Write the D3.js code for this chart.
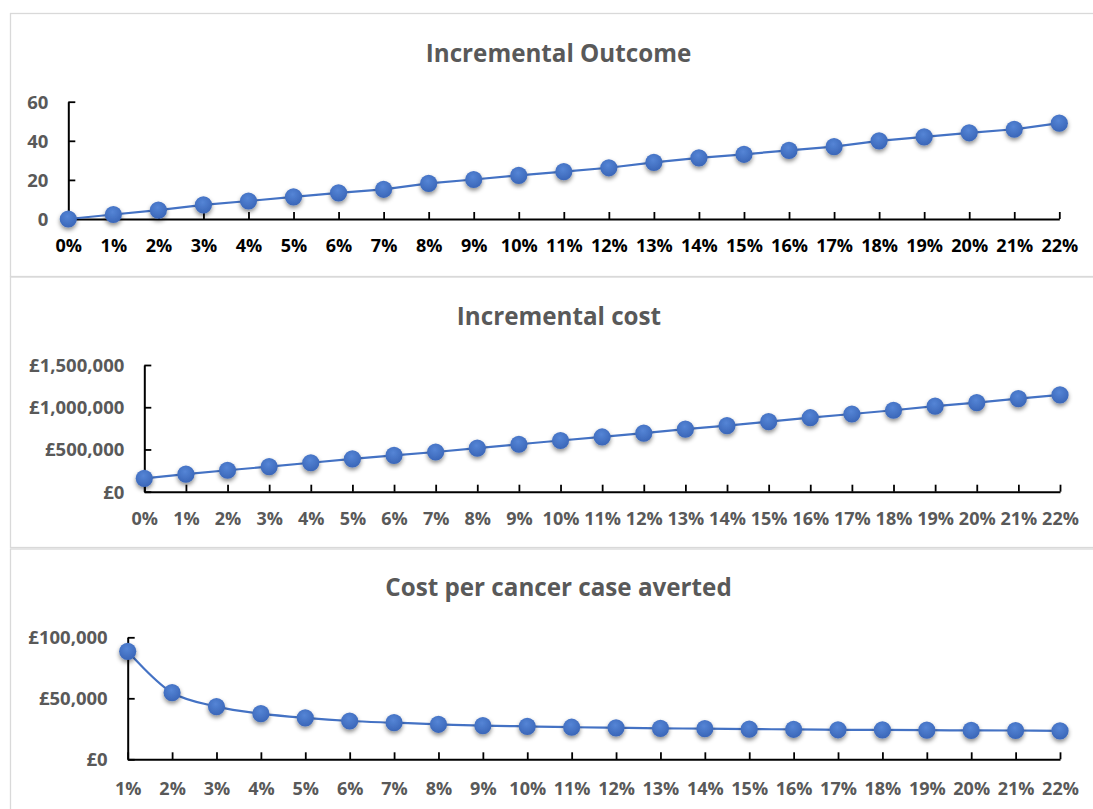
<!DOCTYPE html>
<html><head><meta charset="utf-8">
<script src="https://cdn.jsdelivr.net/npm/d3@7"></script>
<style>
html,body{margin:0;padding:0;background:#fff;}
svg{display:block;font-family:"Open Sans",sans-serif;}
</style></head>
<body><svg id="c" width="1093" height="809"></svg>
<script>
// ---- data ----
const rates1 = ["0%","1%","2%","3%","4%","5%","6%","7%","8%","9%","10%","11%","12%","13%","14%","15%","16%","17%","18%","19%","20%","21%","22%"];
const outcome = [0,2.3,4.5,7.2,9.2,11.3,13.4,15.2,18.2,20.2,22.3,24.2,26.2,29,31.3,33.1,35.1,37,40,42,44.1,45.9,49];
const cost = [158000,208000,254000,297000,343000,388000,431000,470000,515000,562000,606000,648000,693000,740000,783000,829000,876000,920000,964000,1013000,1055000,1102000,1146000];
const rates3 = ["1%","2%","3%","4%","5%","6%","7%","8%","9%","10%","11%","12%","13%","14%","15%","16%","17%","18%","19%","20%","21%","22%"];
const costPerCase = [88500,54600,43200,37400,33900,31400,30000,28700,27600,27000,26300,25800,25400,25100,24700,24600,24200,24100,23900,23700,23600,23300];
const titles = ["Incremental Outcome","Incremental cost","Cost per cancer case averted"];
const ticks1 = [0,20,40,60];
const ticks2 = [0,500000,1000000,1500000];
const ticks3 = [0,50000,100000];

const svg = d3.select("#c");
const defs = svg.append("defs");
const f = defs.append("filter").attr("id","sh").attr("x","-50%").attr("y","-50%").attr("width","200%").attr("height","200%");
f.append("feDropShadow").attr("dx",0).attr("dy",2.5).attr("stdDeviation",2).attr("flood-color","#000").attr("flood-opacity",0.45);
const g = defs.append("radialGradient").attr("id","mk").attr("cx","45%").attr("cy","35%").attr("r","65%");
g.append("stop").attr("offset","0%").attr("stop-color","#5585d6");
g.append("stop").attr("offset","100%").attr("stop-color","#3a66b8");

// panel frames
const frames = [[10,13,276],[10,276.5,547],[10,548.5,830]];
frames.forEach(([x,y0,y1])=>{
  svg.append("rect").attr("x",x+0.5).attr("y",y0+0.5).attr("width",1200).attr("height",y1-y0)
    .attr("fill","none").attr("stroke","#d9d9d9").attr("stroke-width",1.3);
});

const fmtMoney = v => "£" + d3.format(",")(v);

function panel(cfg){
  const x = d3.scalePoint().domain(cfg.cats).range(cfg.xr).padding(0);
  const y = d3.scaleLinear().domain(cfg.yd).range(cfg.yr);
  const gx = svg.append("g").attr("transform",`translate(0,${cfg.yr[0]})`)
    .call(d3.axisBottom(x).tickSizeInner(-7).tickSizeOuter(0));
  gx.select(".domain").attr("stroke","#000").attr("stroke-width",2);
  gx.selectAll(".tick line").attr("stroke","#000").attr("stroke-width",1.8);
  gx.selectAll(".tick text").attr("y",cfg.xly).attr("dy","0.35em")
    .attr("font-family","Open Sans").attr("font-weight","bold").attr("font-size",18)
    .attr("fill",cfg.xlc);
  const gy = svg.append("g").attr("transform",`translate(${cfg.xr[0]},0)`)
    .call(d3.axisLeft(y).tickValues(cfg.ticks).tickFormat(cfg.fmt).tickSizeInner(-7).tickSizeOuter(0));
  gy.select(".domain").attr("stroke","#000").attr("stroke-width",2);
  gy.selectAll(".tick line").attr("stroke","#000").attr("stroke-width",1.8);
  gy.selectAll(".tick text").attr("x",-20).attr("dy","0.35em")
    .attr("font-family","Open Sans").attr("font-weight","bold").attr("font-size",18.5)
    .attr("fill","#595959");
  const line = d3.line().x((d,i)=>x(cfg.cats[i])).y(d=>y(d)).curve(cfg.curve);
  svg.append("path").datum(cfg.vals).attr("d",line).attr("fill","none")
    .attr("stroke","#4472c4").attr("stroke-width",2.2);
  svg.append("g").selectAll("circle").data(cfg.vals).join("circle")
    .attr("cx",(d,i)=>x(cfg.cats[i])).attr("cy",d=>y(d)).attr("r",8.6)
    .attr("fill","url(#mk)").attr("filter","url(#sh)");
  svg.append("text").attr("x",cfg.tx).attr("y",cfg.ty).attr("text-anchor","middle")
    .attr("font-family","Open Sans").attr("font-weight","bold").attr("font-size",24.2)
    .attr("fill","#595959").text(cfg.title);
}

panel({cats:rates1, vals:outcome, xr:[68.3,1059.3], yd:[0,60], yr:[219,101.7], ticks:ticks1,
  fmt:d3.format("d"), xly:27, xlc:"#000", curve:d3.curveLinear, title:titles[0], tx:558.5, ty:61.5});
panel({cats:rates1, vals:cost, xr:[144.3,1060], yd:[0,1500000], yr:[491.7,365], ticks:ticks2,
  fmt:fmtMoney, xly:27.5, xlc:"#595959", curve:d3.curveLinear, title:titles[1], tx:559, ty:324.5});
panel({cats:rates3, vals:costPerCase, xr:[127.7,1060], yd:[0,100000], yr:[759.3,637.3], ticks:ticks3,
  fmt:fmtMoney, xly:29.5, xlc:"#595959", curve:d3.curveCatmullRom.alpha(0.5), title:titles[2], tx:558.5, ty:595.5});
</script></body></html>
